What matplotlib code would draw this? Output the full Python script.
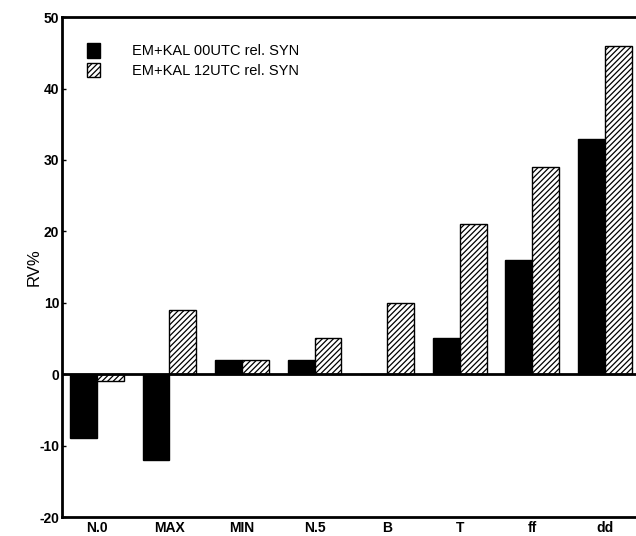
import numpy as np
import matplotlib
matplotlib.use("Agg")
import matplotlib.pyplot as plt

plt.rcParams['font.family'] = ['Liberation Sans', 'DejaVu Sans']
plt.rcParams['hatch.linewidth'] = 0.9
plt.rcParams['axes.unicode_minus'] = False

categories = ["N.0", "MAX", "MIN", "N.5", "B", "T", "ff", "dd"]
utc00 = [-9, -12, 2, 2, 0, 5, 16, 33]
utc12 = [-1, 9, 2, 5, 10, 21, 29, 46]
labels = ["EM+KAL 00UTC rel. SYN", "EM+KAL 12UTC rel. SYN"]

fig = plt.figure(figsize=(6.36, 5.36), dpi=100)
ax = fig.add_axes([0.0975, 0.0354, 0.9025, 0.9326])

x = np.arange(len(categories))
w = 0.37
ax.bar(x - w / 2, utc00, w, color="black", edgecolor="black", linewidth=1, label=labels[0])
ax.bar(x + w / 2, utc12, w, color="white", edgecolor="black", linewidth=1,
       hatch="//////", label=labels[1])

ax.axhline(0, color="black", lw=2, zorder=3)

ax.set_xlim(-0.48, 7.43)
ax.set_ylim(-20, 50)
ax.set_yticks(range(-20, 51, 10))
ax.set_xticks(x)
ax.set_xticklabels(categories, fontsize=10, fontweight="bold")
ax.tick_params(axis="y", direction="in", length=3, width=1, labelsize=10, pad=2)
ax.tick_params(axis="x", length=0, pad=3)
for lab in ax.get_yticklabels():
    lab.set_fontweight("bold")

for s in ["left", "bottom", "top"]:
    ax.spines[s].set_linewidth(2)
ax.spines["right"].set_visible(False)

ax.set_ylabel("RV%", fontsize=12, labelpad=-2)

ax.legend(loc="upper left", bbox_to_anchor=(0.02, 0.975), frameon=False,
          fontsize=10.5, handlelength=0.9, handleheight=1.2, handletextpad=2.2,
          labelspacing=0.3)

fig.savefig("out.png", dpi=100)
